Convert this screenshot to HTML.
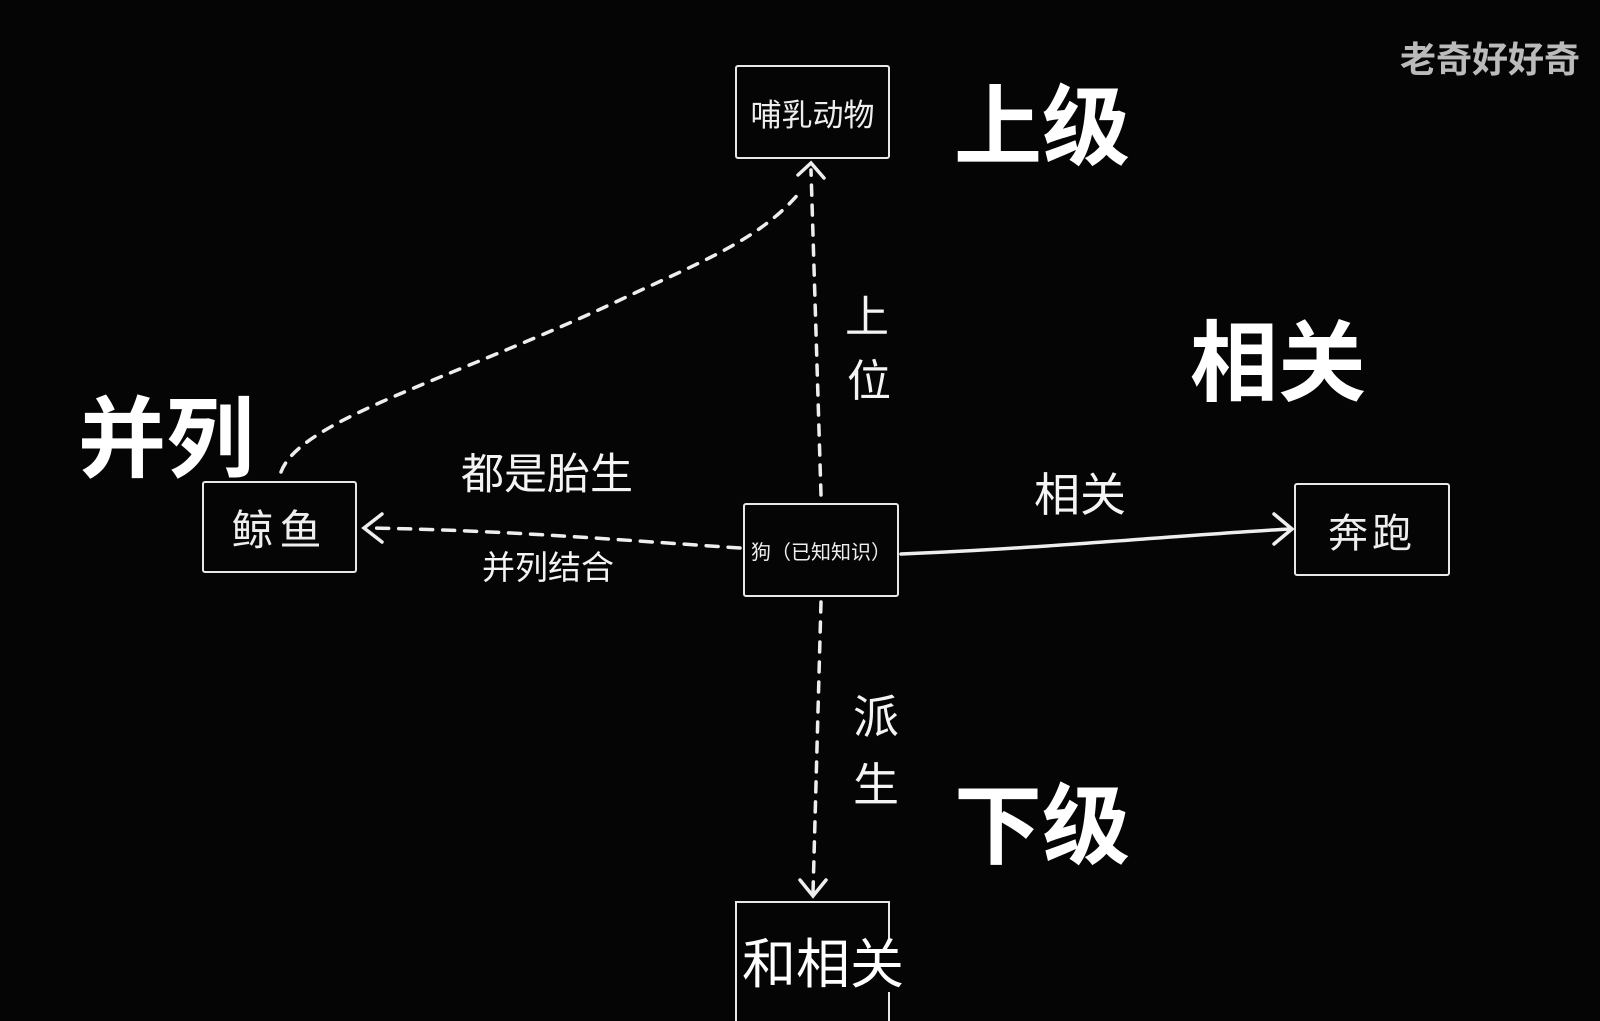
<!DOCTYPE html>
<html><head><meta charset="utf-8"><style>
html,body{margin:0;padding:0;background:#050505;}
body{width:1600px;height:1010px;position:relative;overflow:hidden;font-family:"Liberation Sans","Noto Sans CJK SC",sans-serif;color:#f4f4f4;}
.t{position:absolute;white-space:nowrap;line-height:1;}
.box{position:absolute;border:2px solid #e8e8e8;border-radius:3px;display:flex;align-items:center;justify-content:center;box-sizing:border-box;color:#eee;}
</style></head><body>
<svg width="1600" height="1010" style="position:absolute;left:0;top:0" fill="none" stroke="#eee" stroke-width="3.5" stroke-linecap="round">
<path d="M821 495 L811 170" stroke-dasharray="10 10"/>
<path d="M798 175 L811 163 L824 178"/>
<path d="M281 472 C300 420 450 380 620 300 C700 262 760 240 800 192" stroke-dasharray="10 10"/>
<path d="M740 548 C620 540 500 530 368 528" stroke-dasharray="12 10"/>
<path d="M382 514 L364 528 L382 542"/>
<path d="M901 554 C1050 548 1180 535 1290 529"/>
<path d="M1274 514 L1292 529 L1274 544"/>
<path d="M821 602 L813 893" stroke-dasharray="10 10"/>
<path d="M800 880 L813 896 L826 880"/>
</svg>
<div class="box" style="left:735px;top:65px;width:155px;height:94px;font-size:31px;">哺乳动物</div>
<div class="box" style="left:202px;top:481px;width:155px;height:92px;font-size:42px;letter-spacing:6px;">鲸鱼</div>
<div class="box" style="left:743px;top:503px;width:156px;height:94px;font-size:20px;">狗（已知知识）</div>
<div class="box" style="left:1294px;top:483px;width:156px;height:93px;font-size:40px;letter-spacing:4px;">奔跑</div>
<div style="position:absolute;left:735px;top:901px;width:155px;height:120px;border:2px solid #e8e8e8;border-bottom:none;box-sizing:border-box;"></div>
<div class="t" style="left:742px;top:938px;font-size:54px;background:#050505;color:#fff;">和相关</div>
<div class="t" style="left:954px;top:84px;font-size:88px;font-weight:bold;color:#fff;">上级</div>
<div class="t" style="left:1190px;top:320px;font-size:88px;font-weight:bold;color:#fff;">相关</div>
<div class="t" style="left:78px;top:396px;font-size:88px;font-weight:bold;color:#fff;">并列</div>
<div class="t" style="left:954px;top:783px;font-size:88px;font-weight:bold;color:#fff;">下级</div>
<div class="t" style="left:1400px;top:42px;font-size:36px;font-weight:bold;color:#bbb;">老奇好好奇</div>
<div class="t" style="left:845px;top:296px;font-size:44px;">上</div>
<div class="t" style="left:847px;top:360px;font-size:44px;">位</div>
<div class="t" style="left:853px;top:694px;font-size:46px;">派</div>
<div class="t" style="left:853px;top:762px;font-size:46px;">生</div>
<div class="t" style="left:461px;top:454px;font-size:43px;">都是胎生</div>
<div class="t" style="left:482px;top:551px;font-size:33px;">并列结合</div>
<div class="t" style="left:1034px;top:472px;font-size:46px;">相关</div>
</body></html>
